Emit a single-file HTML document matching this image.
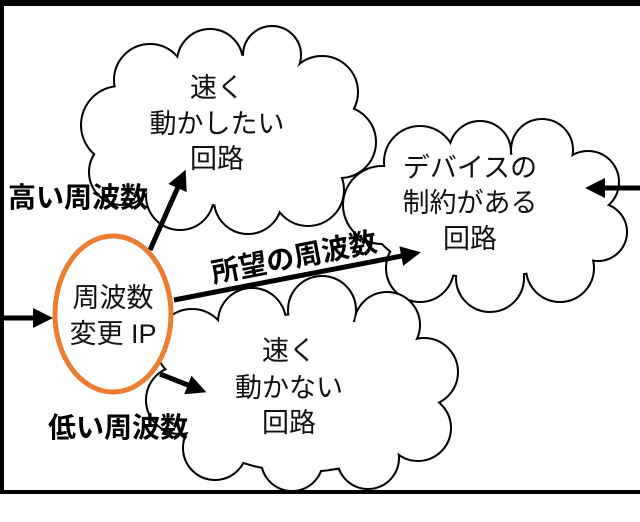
<!DOCTYPE html>
<html><head><meta charset="utf-8"><style>
html,body{margin:0;padding:0;background:#fff;}
svg{display:block;}
text{font-family:"Liberation Sans","Noto Sans CJK JP",sans-serif;}
.c{font-size:27px;fill:#111;text-anchor:middle;}
.b{font-size:28px;font-weight:bold;fill:#000;}
</style></head><body>
<svg width="640" height="522" viewBox="0 0 640 522">
<defs>
<marker id="ah" markerWidth="4" markerHeight="4" refX="2.2" refY="2" orient="auto" markerUnits="strokeWidth">
<path d="M0,0 L4,2 L0,4 z" fill="#000"/></marker>
<g id="c1">
<circle cx="120" cy="125" r="38"/><circle cx="150" cy="80" r="35"/><circle cx="210" cy="62" r="32"/><circle cx="272" cy="55" r="28"/><circle cx="322" cy="92" r="35"/><circle cx="340" cy="142" r="35"/><circle cx="308" cy="190" r="35"/><circle cx="248" cy="200" r="33"/><circle cx="180" cy="196" r="33"/><circle cx="122" cy="172" r="32"/><ellipse cx="228" cy="130" rx="110" ry="75"/>
</g>
<g id="c2">
<circle cx="382" cy="205" r="38"/><circle cx="420" cy="162" r="35"/><circle cx="480" cy="152" r="30"/><circle cx="542" cy="150" r="30"/><circle cx="588" cy="182" r="30"/><circle cx="598" cy="232" r="28"/><circle cx="560" cy="268" r="33"/><circle cx="490" cy="278" r="33"/><circle cx="420" cy="268" r="33"/><ellipse cx="485" cy="215" rx="115" ry="62"/>
</g>
<g id="c3">
<circle cx="192" cy="345" r="35"/><circle cx="252" cy="322" r="33"/><circle cx="322" cy="310" r="33"/><circle cx="387" cy="325" r="32"/><circle cx="424" cy="372" r="33"/><circle cx="418" cy="428" r="32"/><circle cx="368" cy="458" r="30"/><circle cx="292" cy="460" r="30"/><circle cx="215" cy="448" r="31"/><circle cx="180" cy="400" r="33"/><ellipse cx="302" cy="393" rx="125" ry="78"/>
</g>
</defs>
<rect x="0" y="0" width="640" height="6" fill="#000"/>
<rect x="0" y="0" width="4" height="494" fill="#000"/>

<use href="#c1" fill="#000" stroke="#000" stroke-width="4"/>
<use href="#c1" fill="#fff"/>
<use href="#c2" fill="#000" stroke="#000" stroke-width="4"/>
<use href="#c2" fill="#fff"/>
<use href="#c3" fill="#000" stroke="#000" stroke-width="4"/>
<use href="#c3" fill="#fff"/>
<rect x="0" y="490" width="640" height="4" fill="#000"/>

<text class="c" x="217" y="97">速く</text>
<text class="c" x="217" y="133">動かしたい</text>
<text class="c" x="217" y="168">回路</text>
<text class="c" x="470" y="177">デバイスの</text>
<text class="c" x="470" y="212">制約がある</text>
<text class="c" x="470" y="248">回路</text>
<text class="c" x="289" y="360">速く</text>
<text class="c" x="289" y="397">動かない</text>
<text class="c" x="289" y="432">回路</text>

<g stroke="#000" stroke-width="5" fill="none">
<line x1="0" y1="318" x2="44" y2="318" marker-end="url(#ah)"/>
<line x1="640" y1="188" x2="594" y2="188" marker-end="url(#ah)"/>
<line x1="150" y1="250" x2="182" y2="178" marker-end="url(#ah)"/>
<line x1="174" y1="300" x2="412" y2="254" marker-end="url(#ah)"/>
<line x1="160" y1="374" x2="198" y2="389" marker-end="url(#ah)"/>
</g>

<ellipse cx="113" cy="314" rx="58" ry="78" fill="#fff" stroke="#ED7D31" stroke-width="5"/>
<text class="c" x="113" y="307">周波数</text>
<text class="c" x="113" y="343">変更 IP</text>

<text class="b" x="8" y="207">高い周波数</text>
<text class="b" x="48" y="437">低い周波数</text>
<text class="b" x="294" y="267" text-anchor="middle" transform="rotate(-11 294 257)">所望の周波数</text>
</svg>
</body></html>
